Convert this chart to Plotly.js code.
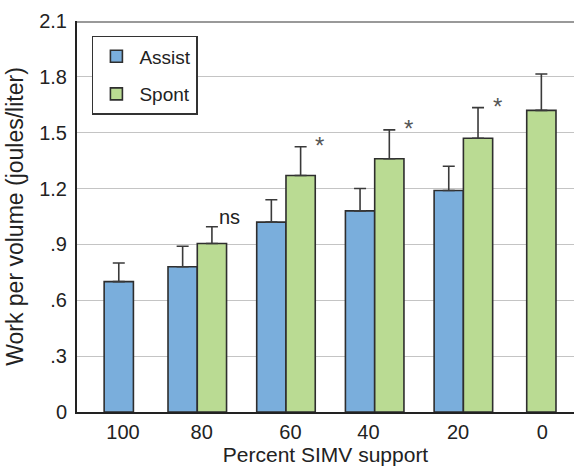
<!DOCTYPE html>
<html>
<head>
<meta charset="utf-8">
<script src="https://cdn.plot.ly/plotly-3.0.1.min.js"></script>
<style>html,body{margin:0;padding:0;background:#fff;}#chart{width:574px;height:468px;}</style>
</head>
<body>
<div id="chart"></div>
<script>
// ---- data ----
const categories = ['100', '80', '60', '40', '20', '0'];
const assistValues = [0.70, 0.78, 1.02, 1.08, 1.19, null];
const assistErrors = [0.10, 0.11, 0.12, 0.12, 0.13, null];
const spontValues = [null, 0.905, 1.27, 1.36, 1.47, 1.62];
const spontErrors = [null, 0.09, 0.155, 0.155, 0.165, 0.195];
const significance = ['', 'ns', '*', '*', '*', ''];
const yTickValues = [0, 0.3, 0.6, 0.9, 1.2, 1.5, 1.8, 2.1];
const yTickLabels = ['0', '.3', '.6', '.9', '1.2', '1.5', '1.8', '2.1'];

// ---- layout helpers (positions / styles) ----
const idx = categories.map((c, i) => i);
const barW = 0.33;
const assistOffset = [-0.05, -barW, -barW, -barW, -barW, 0];
const spontOffset = [0, 0, 0, 0, 0, -0.286];
const tickPos = [0.163, 1.05, 2.05, 2.93, 3.94, 4.89];

const font = 'Liberation Sans, Arial, Helvetica, sans-serif';

const errStyle = {color: '#3a3a3a', thickness: 1.6, width: 6};

const traces = [
  {
    type: 'bar', name: 'Assist', x: idx, y: assistValues, legendgroup: 'a',
    width: barW, offset: assistOffset,
    marker: {color: '#7aaedc', line: {color: '#2e2e2e', width: 1.6}},
    error_y: Object.assign({type: 'data', symmetric: false, array: assistErrors, arrayminus: assistErrors.map(() => 0), visible: true}, errStyle)
  },
  {
    type: 'bar', name: 'Spont', x: idx, y: spontValues, legendgroup: 'b',
    width: barW, offset: spontOffset,
    marker: {color: '#badb93', line: {color: '#2e2e2e', width: 1.6}},
    error_y: Object.assign({type: 'data', symmetric: false, array: spontErrors, arrayminus: spontErrors.map(() => 0), visible: true}, errStyle)
  }
];

const annotations = [];
significance.forEach((s, i) => {
  if (!s) return;
  const top = spontValues[i] + spontErrors[i];
  const xc = i + spontOffset[i] + barW / 2;
  if (s === 'ns') {
    annotations.push({x: xc, y: top, xref: 'x', yref: 'y', text: s, showarrow: false,
      xanchor: 'left', yanchor: 'bottom', xshift: 5, yshift: -3,
      font: {family: font, size: 20, color: '#222'}});
  } else {
    annotations.push({x: xc, y: top, xref: 'x', yref: 'y', text: s, showarrow: false,
      xanchor: 'center', yanchor: 'middle', xshift: 19, yshift: 1,
      font: {family: font, size: 24, color: '#555'}});
  }
});

const layout = {
  width: 574, height: 468,
  margin: {l: 77, r: 0, t: 21, b: 56, pad: 0},
  paper_bgcolor: '#fff', plot_bgcolor: '#fff',
  barmode: 'overlay',
  font: {family: font, size: 20, color: '#222'},
  showlegend: true,
  legend: {
    x: 0.03, y: 0.962, xanchor: 'left', yanchor: 'top',
    bgcolor: '#fff', bordercolor: '#333', borderwidth: 1.5,
    font: {family: font, size: 19, color: '#222'},
    tracegroupgap: 10, itemwidth: 36
  },
  xaxis: {
    range: [-0.356, 5.247],
    tickmode: 'array', tickvals: tickPos, ticktext: categories,
    ticks: '', showgrid: false, zeroline: false,
    showline: true, linecolor: '#222', linewidth: 2,
    tickfont: {family: font, size: 20, color: '#222'},
    ticklabelstandoff: 1,
    title: {text: 'Percent SIMV support', font: {family: font, size: 21, color: '#222'}, standoff: 2},
    fixedrange: true
  },
  yaxis: {
    range: [0, 2.1],
    tickmode: 'array', tickvals: yTickValues, ticktext: yTickLabels,
    ticks: '', showgrid: true, gridcolor: '#c4c4c4', gridwidth: 1.2,
    zeroline: false, showline: true, linecolor: '#222', linewidth: 2,
    tickfont: {family: font, size: 20, color: '#222'},
    ticklabelstandoff: 4,
    title: {text: 'Work per volume (joules/liter)', font: {family: font, size: 23, color: '#222'}, standoff: 9},
    fixedrange: true
  },
  shapes: [
    {type: 'line', xref: 'paper', yref: 'y', x0: 0, x1: 1, y0: 2.1, y1: 2.1,
     line: {color: '#999', width: 4}}
  ],
  annotations: annotations
};

Plotly.newPlot('chart', traces, layout, {displayModeBar: false, staticPlot: true});
</script>
</body>
</html>
